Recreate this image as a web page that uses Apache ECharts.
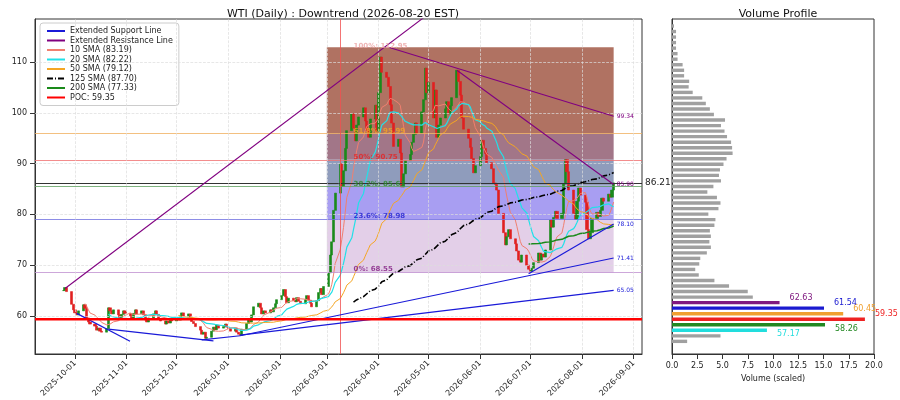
<!DOCTYPE html>
<html><head><meta charset="utf-8">
<script src="https://cdn.jsdelivr.net/npm/echarts@6/dist/echarts.min.js"></script>
<style>html,body{margin:0;background:#fff}#c{width:900px;height:400px}</style>
</head><body><div id="c"></div>
<script>
// ---- data ----
const lastDate = '2026-08-20';
const closes = [
 65.0,65.6,64.8,62.3,61.2,
 60.6,60.2,61.0, 62.2,61.5,59.6,58.8,58.4, 58.0,57.2,57.6,57.0,56.8, 57.5,61.6,61.0,60.4,61.2, 60.2,59.6,60.3,61.0,60.5,
 60.0,59.4,60.5,61.2,60.4, 61.0,60.2,59.2,58.8,59.6, 60.4,61.0,60.3,59.5,59.0, 58.4,59.0,58.6,59.2,59.0,
 59.6,59.2,60.0,60.6,59.8, 60.4,59.5,58.9,58.5,57.9, 57.2,56.4,56.8,55.6,55.8, 57.0,57.8,57.3,58.2,57.6, 57.9,58.4,57.8,
 57.5,57.0, 57.6,56.8,56.4,56.2,57.4, 58.5,59.3,58.8,60.2,61.8, 62.5,61.6,60.4,61.0,60.6, 61.2,60.8,61.6,62.4,63.2,
 64.0,65.2,63.8,62.6,63.5, 63.0,62.8,63.6,62.9,62.4, 63.2,64.0,63.1,62.5,61.8, 63.0,64.6,65.4,64.2,65.8,
 68.5,72.0,74.6,80.8,84.2, 90.0,85.5,88.6,93.0,96.5, 99.8,97.0,94.5,97.6,99.2, 101.0,98.4,96.6,95.2,98.8, 101.5,96.4,
 104.0,111.0,108.0, 107.0,105.2,101.6,98.0,93.4, 94.8,92.1,85.4,88.0,90.6, 91.8,94.2,95.8,98.0,96.0, 100.2,102.6,108.8,104.0,
 106.0, 99.0,104.5,95.2,97.6,99.0, 100.8,102.2,99.8,101.4,103.0, 108.4,106.2,103.5,99.0,96.8, 95.0,93.2,91.0,88.2,89.6,
 91.4,94.6,93.0,92.0,90.2, 89.0,86.2,85.9,84.8,80.2, 76.4,74.0,75.6,77.0,75.2, 74.2,72.8,71.0,70.6,72.0, 70.0,69.2,
 68.8,69.4,70.5, 72.4,71.0,72.2,71.6,73.0, 78.9,77.5,79.4,80.6,79.2, 80.2,86.0,90.8,88.4,84.8, 80.2,79.0,82.6,85.2,83.8,
 82.4,77.0,75.2,76.4,79.2, 80.4,79.6,80.8,83.2,82.6, 84.0,83.4,84.8,86.21
];
const monthTicks = ['2025-10-01','2025-11-01','2025-12-01','2026-01-01','2026-02-01','2026-03-01','2026-04-01','2026-05-01','2026-06-01','2026-07-01','2026-08-01','2026-09-01'];
const priceTicks = [60,70,80,90,100,110];
const fibLevels = [112.95,95.99,90.75,85.63,78.98,68.55];
const fibNames = ['100%: 112.95','61.8%: 95.99','50%: 90.75','38.2%: 85.63','23.6%: 78.98','0%: 68.55'];
const fibStart = '2026-03-01', fibEnd = '2026-08-20';
const poc = 59.35, lastPrice = 86.21;
const supportLines = [
 [['2025-10-02',60.5],['2025-11-03',55.0]],
 [['2025-10-21',57.4],['2025-12-23',55.1]],
 [['2025-12-16',55.3],['2026-01-08',56.1]],
 [['2026-01-08',56.1],['2026-08-20',71.41]],
 [['2026-01-08',56.2],['2026-08-20',65.05]],
 [['2026-06-30',68.3],['2026-08-20',78.10]]
];
const supportLabels = ['','','','71.41','65.05','78.10'];
const resistLines = [
 [['2025-09-25',65.4],['2026-05-01',119.5]],
 [['2026-04-07',112.95],['2026-08-20',99.34]],
 [['2026-05-18',108.4],['2026-08-20',85.90]]
];
const resistLabels = ['','99.34','85.90'];
const vpVolumes = [1.5,4.8,9.4,15.15,19.1,16.95,15.05,10.65,8.0,7.5,5.65,4.2,2.65,2.3,2.7,2.8,3.45,3.85,3.7,3.85,3.75,4.2,4.3,3.6,4.6,4.8,4.45,3.5,4.1,4.85,4.65,4.75,5.1,5.4,6.0,5.95,5.85,5.45,5.2,4.85,5.25,4.15,3.75,3.35,3.0,2.05,1.65,1.7,1.2,1.2,1.05,0.55,0.55,0.4,0.4,0.4,0.4,0.2];
const vpStart = 54.99, vpStep = 1.09;
const vpHighlights = {2:['#22dddd','57.17'],3:['#228822','58.26'],4:['#ee2222','59.35'],5:['#f0a030','60.45'],6:['#1a1ad0','61.54'],7:['#801a80','62.63']};

// ---- build ----
function fmt(d){return d.getFullYear()+'-'+String(d.getMonth()+1).padStart(2,'0')+'-'+String(d.getDate()).padStart(2,'0');}
const ts = s=>+new Date(s+'T00:00:00');
const dates=[]; {let d=new Date(lastDate+'T00:00:00'); while(dates.length<closes.length){const w=d.getDay(); if(w!==0&&w!==6) dates.unshift(+d); d.setDate(d.getDate()-1);}}
const candles = closes.map((c,i)=>{const o=i?closes[i-1]:c; return [dates[i],o,c,Math.min(o,c),Math.max(o,c)];});
function sma(n){return closes.map((c,i)=>i<n-1?[dates[i],null]:[dates[i],+(closes.slice(i-n+1,i+1).reduce((a,b)=>a+b,0)/n).toFixed(2)]);}
const fibColors=['#eaa0a0','#f5a623','#e82020','#2a8a2a','#2020d0','#801a80'];
const labelOffsets=[0.2,0.4,0.55,0.4,0.7,0.7];

const series=[];
series.push({type:'candlestick',xAxisIndex:0,yAxisIndex:0,data:candles,barWidth:2.6,
 itemStyle:{color:'#1a8a1a',color0:'#e02020',borderColor:'#1a8a1a',borderColor0:'#e02020',borderWidth:0.6},z:3,
 markArea:{silent:true,data:[0,1,2,3,4].map(k=>[{xAxis:ts(fibStart),yAxis:fibLevels[k],itemStyle:{color:['#b07262','#a27688','#8f9cbc','#a89ef2','#e3cfe8'][k]}},{xAxis:ts(fibEnd),yAxis:fibLevels[k+1]}])},
 markLine:{silent:true,symbol:'none',label:{show:false},data:[
  ...fibLevels.slice(1).map((v,k)=>({yAxis:v,lineStyle:{color:['#f0b060','#f07070','#60a060','#7070e0','#c090d0'][k],width:0.8,type:'solid'}})),
  {yAxis:lastPrice,lineStyle:{color:'#333',width:1,type:'solid'},label:{show:true,position:'end',formatter:'86.21',color:'#222',fontSize:9,distance:3}},
  {xAxis:ts('2026-03-09'),lineStyle:{color:'#f05050',width:0.8,type:'solid'}}
 ]}
});
series.push({type:'line',data:[],xAxisIndex:0,yAxisIndex:0,z:1,markLine:{silent:true,symbol:'none',label:{show:false},lineStyle:{color:'#ddd',type:'dashed',width:0.7},data:[...priceTicks.map(v=>({yAxis:v})),...monthTicks.map(v=>({xAxis:ts(v)}))]}});
const smaDefs=[['10 SMA (83.19)',10,'#f08070',1,'solid'],['20 SMA (82.22)',20,'#22e0e8',1.2,'solid'],['50 SMA (79.12)',50,'#f5a623',1,'solid'],['125 SMA (87.70)',125,'#000',1.6,[6,2,1,2]],['200 SMA (77.33)',200,'#1a8a1a',1.5,'solid']];
smaDefs.forEach(s=>series.push({name:s[0],type:'line',data:sma(s[1]),symbol:'none',z:4,lineStyle:{color:s[2],width:s[3],type:s[4]},itemStyle:{color:s[2]}}));
function tl(name,pts,col,lab,w){return {name,type:'line',z:5,symbol:'circle',symbolSize:0.1,showSymbol:true,lineStyle:{color:col,width:w},itemStyle:{color:col},
 data:[{value:[ts(pts[0][0]),pts[0][1]]},{value:[ts(pts[1][0]),pts[1][1]],label:{show:!!lab,formatter:lab||'',position:'right',fontSize:6,color:col,distance:3}}]};}
supportLines.forEach((p,i)=>series.push(tl('Extended Support Line',p,'#1a1ad8',supportLabels[i],1.2)));
resistLines.forEach((p,i)=>series.push(tl('Extended Resistance Line',p,'#800080',resistLabels[i],1.1)));
series.push({name:'POC: 59.35',type:'line',data:[[ts('2025-09-07'),poc],[ts('2026-09-06'),poc]],symbol:'none',z:6,lineStyle:{color:'#ff0000',width:2.5},itemStyle:{color:'#ff0000'}});
series.push({type:'scatter',z:7,symbolSize:0.1,itemStyle:{color:'rgba(0,0,0,0)'},
 data:fibLevels.map((v,k)=>({value:[ts('2026-03-17'),v+labelOffsets[k]],label:{show:true,position:'right',fontSize:7,fontWeight:'bold',formatter:fibNames[k],color:fibColors[k],distance:0}}))});
series.push({type:'custom',xAxisIndex:1,yAxisIndex:1,data:vpVolumes.map((v,i)=>[v,+(vpStart+i*vpStep).toFixed(2),i]),
 renderItem:(params,api)=>{const i=api.value(2);const p0=api.coord([0,api.value(1)]);const p1=api.coord([api.value(0),api.value(1)]);
  const h=vpHighlights[i];const els=[{type:'rect',shape:{x:p0[0],y:p0[1]-1.7,width:p1[0]-p0[0],height:3.4},style:{fill:h?h[0]:'#a0a0a0'}}];
  if(h) els.push({type:'text',x:p1[0]+10,y:p1[1]+([2,3].includes(i)?4:-5),style:{text:h[1],fill:h[0],fontSize:8,fontFamily:'DejaVu Sans',verticalAlign:'middle'}});
  return {type:'group',children:els};}});

const opt={animation:false,backgroundColor:'#fff',textStyle:{fontFamily:'DejaVu Sans'},
 title:[{text:'WTI (Daily) : Downtrend (2026-08-20 EST)',left:338,textAlign:'center',top:4,textStyle:{fontSize:11,fontWeight:'normal',color:'#111'}},
        {text:'Volume Profile',left:773,textAlign:'center',top:4,textStyle:{fontSize:11,fontWeight:'normal',color:'#111'}}],
 legend:{left:40,top:23,orient:'vertical',itemGap:1.5,itemWidth:18,itemHeight:6,backgroundColor:'rgba(255,255,255,0.85)',borderColor:'#ccc',borderWidth:1,borderRadius:3,padding:[4,6],
  itemStyle:{opacity:0},textStyle:{fontSize:8,color:'#222'},data:['Extended Support Line','Extended Resistance Line',...smaDefs.map(s=>s[0]),'POC: 59.35']},
 grid:[{left:35,right:258,top:19,bottom:46,outerBoundsMode:'none',containLabel:false,show:true,borderColor:'#333',borderWidth:1,backgroundColor:'#fff'},
       {left:672,right:26,top:19,bottom:46,outerBoundsMode:'none',containLabel:false,show:true,borderColor:'#333',borderWidth:1}],
 xAxis:[{type:'value',gridIndex:0,min:ts('2025-09-07'),max:ts('2026-09-06'),splitLine:{show:false},axisLine:{onZero:false,lineStyle:{color:'#333'}},
   axisTick:{customValues:monthTicks.map(ts),lineStyle:{color:'#333'}},
   axisLabel:{customValues:monthTicks.map(ts),rotate:45,fontSize:8,color:'#222',formatter:v=>fmt(new Date(v))}},
  {type:'value',gridIndex:1,min:0,max:20,interval:2.5,splitLine:{show:false},axisLine:{onZero:false,lineStyle:{color:'#333'}},axisTick:{lineStyle:{color:'#333'}},
   axisLabel:{fontSize:8,color:'#222',formatter:v=>v.toFixed(1)},name:'Volume (scaled)',nameLocation:'middle',nameGap:17,nameTextStyle:{fontSize:8,color:'#222'}}],
 yAxis:[{type:'value',gridIndex:0,min:52.5,max:118.5,splitLine:{show:false},axisLine:{show:true,onZero:false,lineStyle:{color:'#333'}},
   axisTick:{show:true,customValues:priceTicks,lineStyle:{color:'#333'}},axisLabel:{customValues:priceTicks,fontSize:8,color:'#222'},
   name:'Price (USD)',nameLocation:'middle',nameGap:22,nameTextStyle:{fontSize:8,color:'#222'}},
  {type:'value',gridIndex:1,min:52.5,max:118.5,splitLine:{show:false},axisLine:{show:true,onZero:false,lineStyle:{color:'#333'}},axisTick:{show:false},axisLabel:{show:false}}],
 series};
echarts.init(document.getElementById('c')).setOption(opt);
</script></body></html>
